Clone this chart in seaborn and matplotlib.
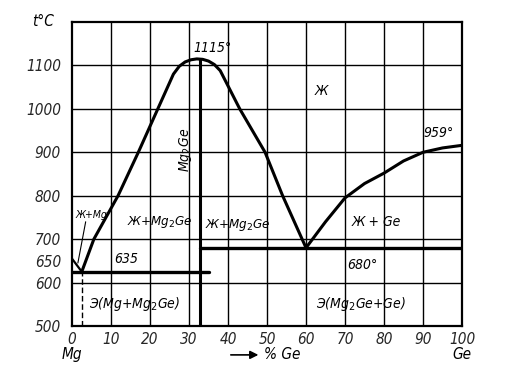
import numpy as np
import pandas as pd
import matplotlib
matplotlib.use("Agg")
import matplotlib.pyplot as plt
import seaborn as sns

# liquidus curves (% Ge, t °C)
mg_liq_x = [0, 2.5]
mg_liq_y = [655, 625]

dome_x = [2.5, 5.6, 11.8, 17, 22, 26, 27.5, 29, 30.5, 32, 33.5, 35, 36.5, 38, 43, 49.5, 54, 60]
dome_y = [625, 700, 800, 900, 1000, 1080, 1098, 1108, 1113, 1115, 1114, 1110, 1102, 1088, 1000, 900, 800, 680]

ge_liq_x = [60, 65, 70, 75, 80, 85, 90, 95, 100]
ge_liq_y = [680, 740, 795, 828, 852, 880, 900, 910, 916]

# compound and eutectic lines
mg2ge_x = [32.8, 32.8]
mg2ge_y = [500, 1115]
eut1_x = [0, 35]
eut1_y = [625, 625]
eut2_x = [32.8, 100]
eut2_y = [680, 680]

x_ticks = [0, 10, 20, 30, 40, 50, 60, 70, 80, 90, 100]
y_ticks = [500, 600, 650, 700, 800, 900, 1000, 1100]
x_grid = [10, 20, 30, 40, 50, 60, 70, 80, 90]
y_grid = [600, 700, 800, 900, 1000, 1100]

sns.set_theme(style="white")
plt.rcParams['font.family'] = ['DejaVu Sans']

fig = plt.figure(figsize=(5.09, 3.83), dpi=100)
ax = fig.add_axes([0.1415, 0.1488, 0.7662, 0.7938])

for g in x_grid:
    ax.axvline(g, color="black", lw=1.0, zorder=1)
for g in y_grid:
    ax.axhline(g, color="black", lw=1.0, zorder=1)

curves = [
    (mg_liq_x, mg_liq_y, 1.6),
    (dome_x, dome_y, 2.2),
    (ge_liq_x, ge_liq_y, 2.2),
    (mg2ge_x, mg2ge_y, 2.2),
    (eut1_x, eut1_y, 2.4),
    (eut2_x, eut2_y, 2.4),
]
for cx, cy, lw in curves:
    df = pd.DataFrame({"x": cx, "y": cy})
    sns.lineplot(data=df, x="x", y="y", sort=False, estimator=None, color="black",
                 lw=lw, ax=ax, zorder=3)

ax.plot([2.5, 2.5], [500, 625], color="black", lw=1.0, ls=(0, (4, 2)))

ax.set_xlim(0, 100)
ax.set_ylim(500, 1200)
ax.set_xticks(x_ticks)
ax.set_yticks(y_ticks)
tfont = dict(fontsize=11, style="italic", stretch="condensed")
ax.set_xticklabels([str(t) for t in x_ticks], **tfont)
ax.set_yticklabels([str(t) for t in y_ticks], **tfont)
ax.tick_params(axis="both", length=0, pad=4)
ax.tick_params(axis="y", pad=8)
ax.set_xlabel("")
ax.set_ylabel("")
for s in ax.spines.values():
    s.set_color("black")
    s.set_linewidth(1.6)

lab = dict(color="black", style="italic", stretch="condensed", ha="center", va="center")
ax.text(36, 1140, "1115°", fontsize=10, **lab)
ax.text(64, 1040, "Ж", fontsize=10, **lab)
ax.text(94, 945, "959°", fontsize=10, **lab)
ax.text(29, 905, "Mg$_2$Ge", fontsize=10, rotation=90, **lab)
ax.text(5, 755, "Ж+Mg", fontsize=7.5, **lab)
ax.plot([3.5, 1.5], [740, 645], color="black", lw=0.8)
ax.text(22.5, 740, "Ж+Mg$_2$Ge", fontsize=9.5, **lab)
ax.text(42.5, 733, "Ж+Mg$_2$Ge", fontsize=9.5, **lab)
ax.text(14, 655, "635", fontsize=10, **lab)
ax.text(16, 550, "Э(Mg+Mg$_2$Ge)", fontsize=10, **lab)
ax.text(78, 740, "Ж + Ge", fontsize=10, **lab)
ax.text(74.5, 640, "680°", fontsize=10, **lab)
ax.text(74, 550, "Э(Mg$_2$Ge+Ge)", fontsize=10, **lab)

ax.text(-0.075, 1.0, "t°C", transform=ax.transAxes, fontsize=11, **lab)
ax.text(0.0, -0.095, "Mg", transform=ax.transAxes, fontsize=11, **lab)
ax.text(1.0, -0.095, "Ge", transform=ax.transAxes, fontsize=11, **lab)
ax.annotate("", xy=(0.485, -0.095), xytext=(0.4, -0.095), xycoords="axes fraction",
            arrowprops=dict(arrowstyle="-|>", color="black", lw=1.2))
ax.text(0.54, -0.095, "% Ge", transform=ax.transAxes, fontsize=11, **lab)

fig.savefig("out.png", dpi=100)
